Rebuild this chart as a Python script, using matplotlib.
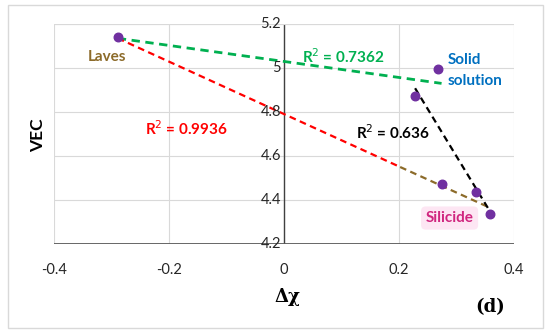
import matplotlib.pyplot as plt
from matplotlib.patches import Rectangle

plt.rcParams['font.family'] = ['Lato', 'DejaVu Sans']

# data points (delta chi, VEC)
dchi = [-0.289, 0.268, 0.228, 0.275, 0.334, 0.358]
vec = [5.14, 4.995, 4.873, 4.475, 4.435, 4.335]

# trend segments
green_x = [-0.289, 0.274]
green_y = [5.135, 4.93]
red_x = [-0.289, 0.202]
red_y = [5.135, 4.55]
brown_x = [0.202, 0.352]
brown_y = [4.55, 4.372]
black_x = [0.228, 0.355]
black_y = [4.908, 4.362]

xticks = [-0.4, -0.2, 0, 0.2, 0.4]
yticks = [4.2, 4.4, 4.6, 4.8, 5.0, 5.2]
ylabels = ['4.2', '4.4', '4.6', '4.8', '5', '5.2']

fig = plt.figure(figsize=(5.5, 3.35), dpi=100)
fig.patches.append(Rectangle((8 / 550, 1 - 328 / 335), 535 / 550, 323 / 335,
                             transform=fig.transFigure, fill=False,
                             edgecolor='#d9d9d9', linewidth=1))
ax = fig.add_axes([54 / 550, 91 / 335, 460 / 550, 220 / 335])

ax.set_xlim(-0.4, 0.4)
ax.set_ylim(4.2, 5.2)
for s in ax.spines.values():
    s.set_visible(False)
ax.set_xticks(xticks)
ax.set_yticks(yticks)
ax.grid(True, color='#d9d9d9', linewidth=0.8)
ax.tick_params(length=0, labelleft=False, labelsize=10.5, pad=14)
ax.set_xticklabels(['-0.4', '-0.2', '0', '0.2', '0.4'], color='#262626')
ax.axvline(0, color='#404040', linewidth=1)
ax.axhline(4.2, color='#595959', linewidth=2)
ax.axhline(5.2, color='#d9d9d9', linewidth=0.8)

# y tick labels sit next to the vertical axis at x=0
for y, lab in zip(yticks, ylabels):
    ax.text(-0.005, y, lab, ha='right', va='center', fontsize=10.5, color='#262626')

ax.plot(green_x, green_y, '--', color='#00b050', linewidth=2, dashes=(3, 2))
ax.plot(red_x, red_y, '--', color='#ff0000', linewidth=1.6, dashes=(3, 2))
ax.plot(brown_x, brown_y, '--', color='#8c6b2a', linewidth=1.6, dashes=(3, 2))
ax.plot(black_x, black_y, '--', color='#000000', linewidth=1.6, dashes=(3, 2))
ax.scatter(dchi, vec, s=38, color='#7030a0', zorder=5)

ax.text(-0.308, 5.05, 'Laves', color='#8c6b2a', fontsize=11, fontweight='bold',
        ha='center', va='center')
ax.text(-0.17, 4.725, 'R$^2$ = 0.9936', color='#ff0000', fontsize=11,
        fontweight='bold', ha='center', va='center')
ax.text(0.103, 5.052, 'R$^2$ = 0.7362', color='#00b050', fontsize=11,
        fontweight='bold', ha='center', va='center')
ax.text(0.284, 4.99, 'Solid\nsolution', color='#0070c0', fontsize=11,
        fontweight='bold', ha='left', va='center', linespacing=1.6)
ax.text(0.19, 4.705, 'R$^2$ = 0.636', color='#000000', fontsize=11,
        fontweight='bold', ha='center', va='center')
ax.text(0.288, 4.318, 'Silicide', color='#d0267f', fontsize=11, fontweight='bold',
        ha='center', va='center',
        bbox=dict(boxstyle='round,pad=0.3', facecolor='#fde6f3', edgecolor='none'))

fig.text(287 / 550, 1 - 297 / 335, 'Δχ', fontsize=13, fontweight='bold',
         ha='center', va='center', family=['DejaVu Serif'])
fig.text(38 / 550, 1 - 135 / 335, 'VEC', fontsize=12.5, fontweight='bold',
         rotation=90, ha='center', va='center')
fig.text(490 / 550, 1 - 307 / 335, '(d)', fontsize=13, fontweight='bold',
         ha='center', va='center', family=['DejaVu Serif'])

fig.savefig('out.png', dpi=100)
